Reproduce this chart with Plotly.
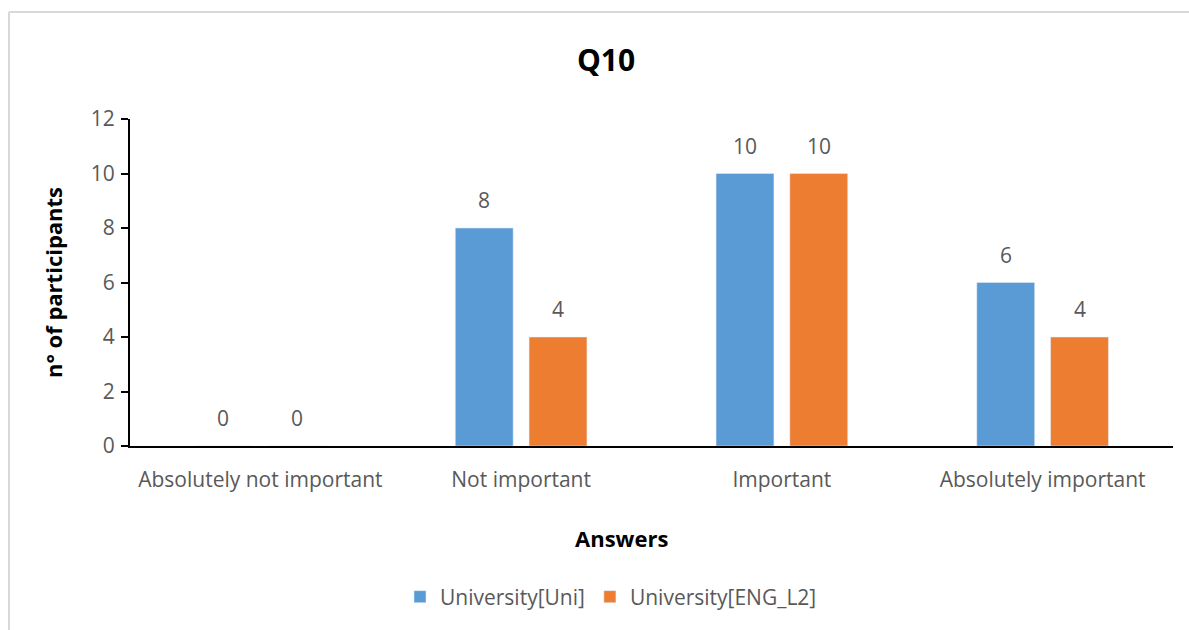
import plotly.graph_objects as go

categories = ["Absolutely not important", "Not important", "Important", "Absolutely important"]
uni_values = [0, 8, 10, 6]
eng_values = [0, 4, 10, 4]
series_names = ["University[Uni]", "University[ENG_L2]"]
y_ticks = [0, 2, 4, 6, 8, 10, 12]

BLUE = "#5B9BD5"
ORANGE = "#ED7D31"
FONT = "Open Sans"

W, H = 1189, 630
L, R, T, B = 130, 16, 119, 184
pw, ph = W - L - R, H - T - B

def px_x(x):
    return (x - L) / pw

def px_y(y):
    return (H - B - y) / ph

fig = go.Figure()
fig.add_trace(go.Bar(x=categories, y=uni_values, name=series_names[0],
                     marker=dict(color=BLUE)))
fig.add_trace(go.Bar(x=categories, y=eng_values, name=series_names[1],
                     marker=dict(color=ORANGE)))

annotations = []
for vals, shift in ((uni_values, -37), (eng_values, 37)):
    for c, v in zip(categories, vals):
        annotations.append(dict(x=c, y=v, xref="x", yref="y", text=str(v),
                                showarrow=False, xshift=shift, yshift=12,
                                yanchor="bottom",
                                font=dict(family=FONT, size=21, color="#595959")))

# x-axis title (positioned like the reference, slightly left of plot centre)
annotations.append(dict(x=px_x(621), y=px_y(538), xref="paper", yref="paper",
                        text="<b>Answers</b>", showarrow=False,
                        xanchor="center", yanchor="middle",
                        font=dict(family=FONT, size=22, color="black")))

shapes = [
    dict(type="line", xref="paper", yref="paper", x0=px_x(9), x1=px_x(1195),
         y0=px_y(12), y1=px_y(12), line=dict(color="#d9d9d9", width=2)),
    dict(type="line", xref="paper", yref="paper", x0=px_x(9), x1=px_x(9),
         y0=px_y(12), y1=px_y(640), line=dict(color="#d9d9d9", width=2)),
]

fig.update_layout(
    width=W, height=H,
    margin=dict(l=L, r=R, t=T, b=B),
    paper_bgcolor="white", plot_bgcolor="white",
    font=dict(family=FONT, color="#595959"),
    barmode="group", bargap=0.434, bargroupgap=0.216,
    title=dict(text="<b>Q10</b>", xref="container", x=606 / W, xanchor="center",
               yref="container", y=1 - 60 / H, yanchor="middle",
               font=dict(family=FONT, size=30, color="black")),
    xaxis=dict(showline=True, linecolor="black", linewidth=2,
               ticks="", showgrid=False, tickfont=dict(size=21, color="#595959"),
               ticklabelstandoff=14),
    yaxis=dict(range=[0, 12], tickvals=y_ticks, showline=True, linecolor="black",
               linewidth=2, ticks="outside", ticklen=7, tickcolor="black",
               tickwidth=2, showgrid=False, zeroline=False,
               tickfont=dict(size=21, color="#595959"), ticklabelstandoff=2,
               title=dict(text="<b>n° of participants</b>", standoff=22,
                          font=dict(size=22, color="black"))),
    legend=dict(orientation="h", x=px_x(611), xanchor="center",
                y=px_y(597), yanchor="middle",
                font=dict(size=21, color="#595959"),
                itemwidth=30, traceorder="normal"),
    annotations=annotations,
    shapes=shapes,
)

fig.write_html("out.html")
